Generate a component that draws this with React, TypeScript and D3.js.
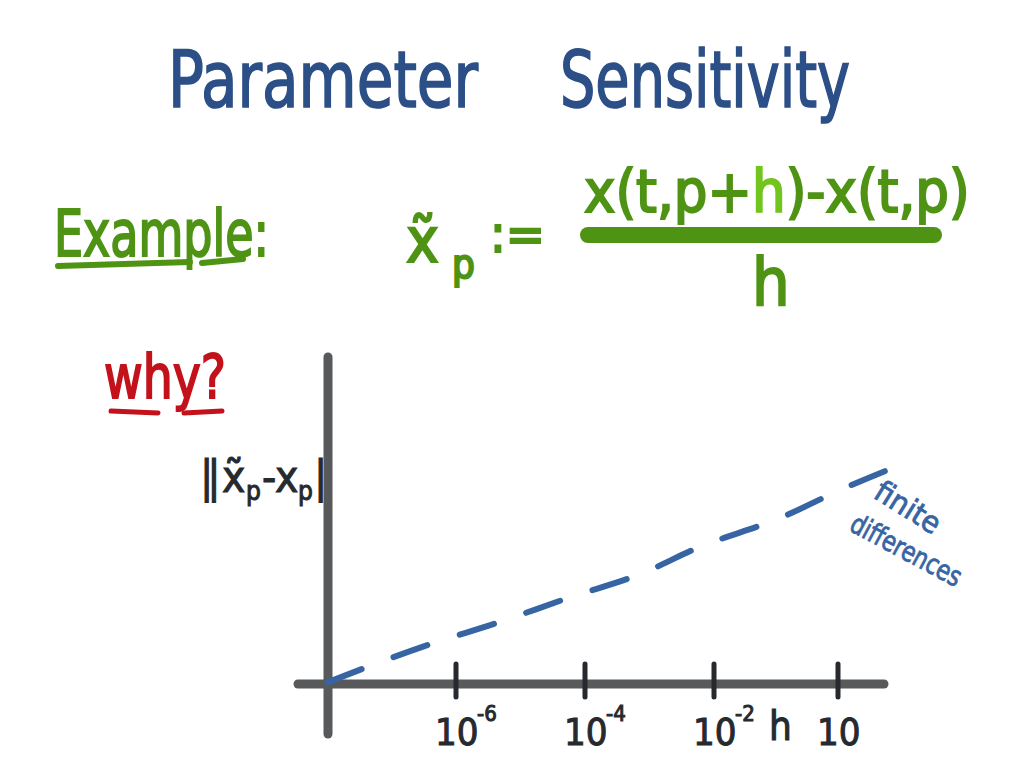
import React from "react";
import * as d3 from "d3";

// ---- data ----
const axisExponents = [-8, -6, -4, -2, 1];
const tickExponents = [-6, -4, -2, 1];
const tickBases = ["10", "10", "10", "10"];
const tickSups = ["-6", "-4", "-2", ""];
const curveExponents = [-8, -6.44, -5.32, -4.26, -3.1, -2.26, -0.4, 1.17, 2.69];
const curveErrors = [0.06, 1.22, 1.94, 2.69, 3.47, 4.25, 5.19, 6.13, 6.94];
const errorDomain = [0, 10];

const W = 1024;
const H = 768;
const FONT = "'DejaVu Sans Condensed', 'DejaVu Sans', sans-serif";

const BLUE = "#2b4f86";
const GREEN = "#4f9314";
const LIGHTGREEN = "#72c41e";
const RED = "#c3121b";
const INK = "#26292d";
const AXIS = "#58595b";
const LINEBLUE = "#3765a3";

export default function App() {
  const x = d3.scaleLinear().domain(axisExponents).range([328, 456, 585, 714, 838]);
  const y = d3.scaleLinear().domain(errorDomain).range([684, 364]);
  const pts = curveExponents.map((e, i) => [e, curveErrors[i]] as [number, number]);
  const line = d3
    .line<[number, number]>()
    .x((d) => x(d[0]))
    .y((d) => y(d[1]))
    .curve(d3.curveMonotoneX);

  const x0 = x(axisExponents[0]);
  const y0 = y(0);

  return (
    <svg
      width={W}
      height={H}
      style={{ position: "fixed", left: 0, top: 0, background: "#fff" }}
      fontFamily={FONT}
    >
      <rect width={W} height={H} fill="#fff" />
      {/* Title */}
      <g fill={BLUE} stroke={BLUE} strokeWidth={1.6}>
        <text x={168} y={107} fontSize={78} textLength={310} lengthAdjust="spacingAndGlyphs">
          Parameter
        </text>
        <text x={560} y={107} fontSize={78} textLength={290} lengthAdjust="spacingAndGlyphs">
          Sensitivity
        </text>
      </g>

      {/* Example: */}
      <g fill={GREEN} stroke={GREEN}>
        <text x={54} y={256} fontSize={64} strokeWidth={2} textLength={215} lengthAdjust="spacingAndGlyphs">
          Example:
        </text>
        <line x1={58} y1={266} x2={190} y2={262} strokeWidth={6} strokeLinecap="round" />
        <line x1={202} y1={263} x2={243} y2={259} strokeWidth={6} strokeLinecap="round" />
      </g>

      {/* x~_p := */}
      <text x={406} y={262} fontSize={62} fill={GREEN} stroke={GREEN} strokeWidth={2}>
        {"x\u0303"}
        <tspan x={452} y={278} fontSize={40}>p</tspan>
        <tspan x={490} y={252} fontSize={52}>:=</tspan>
      </text>

      {/* fraction */}
      <text x={584} y={212} fontSize={59} fill={GREEN} stroke={GREEN} strokeWidth={2}>
        x(t,p+<tspan fill={LIGHTGREEN} stroke={LIGHTGREEN}>h</tspan>)-x(t,p)
      </text>
      <line x1={588} y1={235} x2={934} y2={235} stroke={GREEN} strokeWidth={16} strokeLinecap="round" />
      <text x={752} y={305} fontSize={66} fill={GREEN} stroke={GREEN} strokeWidth={2}>
        h
      </text>

      {/* why? */}
      <g fill={RED} stroke={RED}>
        <text x={104} y={398} fontSize={60} strokeWidth={1.8} textLength={122} lengthAdjust="spacingAndGlyphs">
          why?
        </text>
        <line x1={111} y1={411} x2={158} y2={413} strokeWidth={5} strokeLinecap="round" />
        <line x1={184} y1={413} x2={222} y2={411} strokeWidth={5} strokeLinecap="round" />
      </g>

      {/* y label */}
      <text x={200} y={492} fontSize={44} fill={INK} stroke={INK} strokeWidth={1}>
        <tspan letterSpacing={-6}>||</tspan>
        <tspan x={222}>{"x\u0303"}</tspan>
        <tspan x={246} y={500} fontSize={26}>p</tspan>
        <tspan x={262} y={492}>-</tspan>
        <tspan x={275}>x</tspan>
        <tspan x={298} y={500} fontSize={26}>p</tspan>
        <tspan x={314} y={492}>|</tspan>
      </text>

      {/* axes */}
      <line x1={x0} y1={357} x2={x0} y2={734} stroke={AXIS} strokeWidth={9} strokeLinecap="round" />
      <line x1={298} y1={y0} x2={884} y2={y0} stroke={AXIS} strokeWidth={9} strokeLinecap="round" />
      {tickExponents.map((e, i) => (
        <g key={i} fill={INK} stroke={INK}>
          <line x1={x(e)} y1={664} x2={x(e)} y2={697} strokeWidth={5} strokeLinecap="round" />
          <text x={x(e) - 21} y={745} fontSize={38} strokeWidth={1}>
            {tickBases[i]}
          </text>
          {tickSups[i] && (
            <text x={x(e) + 21} y={721} fontSize={22} strokeWidth={1}>
              {tickSups[i]}
            </text>
          )}
        </g>
      ))}
      <text x={769} y={740} fontSize={40} fill={INK} stroke={INK} strokeWidth={1}>
        h
      </text>

      {/* finite differences curve */}
      <path
        d={line(pts) || ""}
        fill="none"
        stroke={LINEBLUE}
        strokeWidth={6}
        strokeLinecap="round"
        strokeDasharray="36 34"
      />
      <g fill={LINEBLUE} stroke={LINEBLUE} strokeWidth={0.8}>
        <text transform="translate(872,497) rotate(32)" fontSize={30} textLength={72} lengthAdjust="spacingAndGlyphs">
          finite
        </text>
        <text
          transform="translate(848,530) rotate(28)"
          fontSize={28}
          textLength={122}
          lengthAdjust="spacingAndGlyphs"
        >
          differences
        </text>
      </g>
    </svg>
  );
}
